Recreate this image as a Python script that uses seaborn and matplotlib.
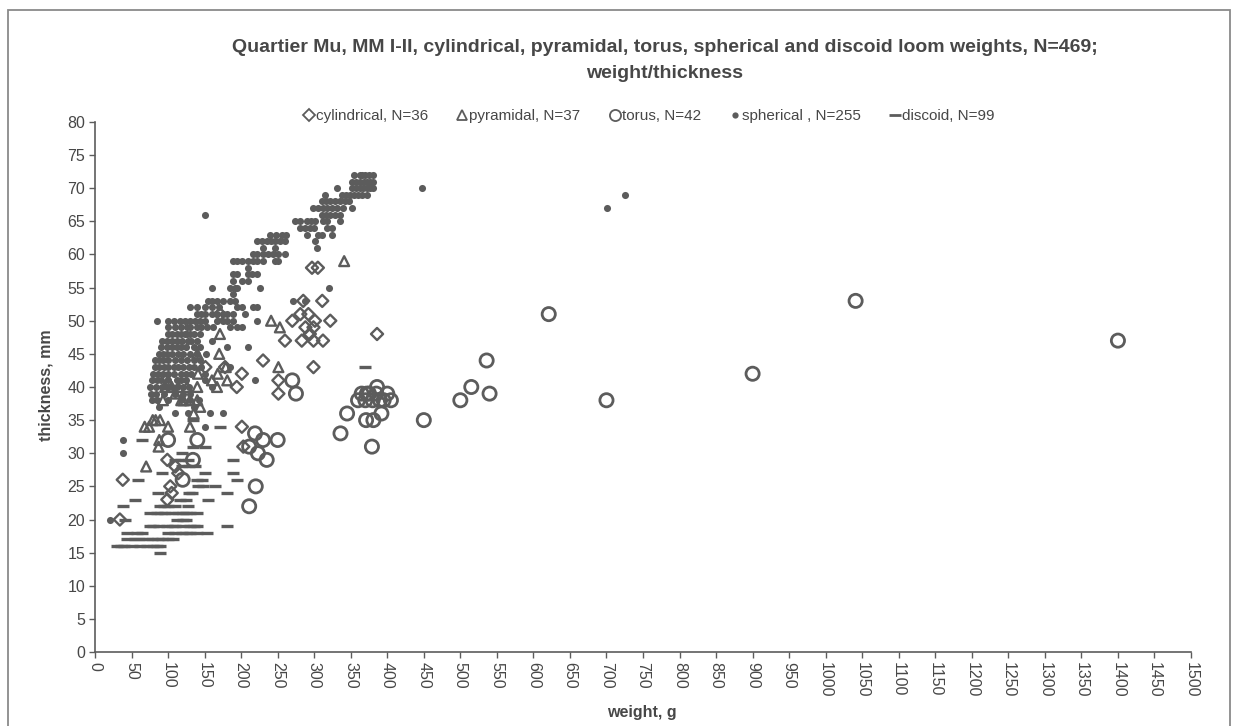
import numpy as np
import pandas as pd
import matplotlib
matplotlib.use("Agg")
import matplotlib.pyplot as plt
import seaborn as sns
from matplotlib.lines import Line2D
from matplotlib.patches import Rectangle

# ---------------- data (weight g, thickness mm) ----------------
cyl_weight = [34, 38, 99, 114, 103, 105, 99, 110, 151, 178, 171, 194, 201, 201, 203,
              230, 251, 251, 260, 270, 281, 283, 288, 292, 294, 299, 299, 299, 301,
              297, 305, 311, 285, 322, 386, 312]
cyl_thick = [20, 26, 29, 27, 25, 24, 23, 28, 43, 43, 51, 40, 42, 34, 31,
             44, 41, 39, 47, 50, 51, 47, 49, 51, 48, 49, 47, 43, 50,
             58, 58, 53, 53, 50, 48, 47]

pyr_weight = [70, 88, 87, 68, 79, 89, 100, 74, 130, 93, 121, 130, 140, 144, 96, 105,
              114, 126, 140, 100, 110, 141, 140, 170, 179, 168, 167, 181, 171, 251,
              241, 253, 341, 135, 160, 118, 83]
pyr_thick = [28, 32, 31, 34, 35, 35, 34, 34, 34, 38, 38, 38, 38, 37, 40, 40,
             40, 40, 40, 41, 39, 42, 45, 45, 43, 42, 40, 41, 48, 43,
             50, 49, 59, 36, 41, 38, 35]

tor_weight = [100, 140, 134, 120, 211, 219, 230, 250, 223, 235, 220, 211, 270, 275,
              336, 345, 371, 381, 379, 386, 392, 360, 365, 370, 375, 380, 385, 390,
              395, 400, 405, 372, 450, 500, 515, 536, 540, 621, 700, 900, 1041, 1400]
tor_thick = [32, 32, 29, 26, 31, 33, 32, 32, 30, 29, 25, 22, 41, 39,
             33, 36, 35, 35, 31, 40, 36, 38, 39, 38, 39, 38, 39, 38,
             38, 39, 38, 39, 35, 38, 40, 44, 39, 51, 38, 42, 53, 47]

# spherical: thickness levels and the weights found at each level
sph_levels = [20, 30, 32, 34, 36, 37, 38, 39, 40, 41, 42, 43, 44, 45, 46, 47, 48, 49,
              50, 51, 52, 53, 54, 55, 56, 57, 58, 59, 60, 61, 62, 63, 64, 65, 66, 67,
              68, 69, 70, 71, 72]
sph_weights = [
    [20], [38], [38], [150], [110, 127, 157, 175], [88, 135],
    [78, 85, 100, 118, 130, 142],
    [76, 83, 95, 110, 120, 130],
    [75, 83, 92, 98, 105, 112, 120, 128, 160],
    [78, 85, 90, 100, 112, 118, 125, 150, 219],
    [80, 86, 93, 100, 108, 118, 125, 132, 150],
    [82, 88, 95, 100, 108, 114, 120, 128, 135, 145, 185],
    [82, 88, 93, 100, 109, 118, 126, 135, 144],
    [88, 93, 98, 105, 114, 120, 130, 140, 152],
    [90, 98, 105, 112, 118, 125, 135, 144, 181, 209],
    [92, 98, 105, 112, 119, 127, 132, 140, 160],
    [100, 105, 112, 118, 123, 126, 130, 135, 144],
    [100, 110, 118, 126, 130, 140, 145, 153, 161, 185, 194, 201],
    [85, 100, 108, 116, 123, 130, 137, 144, 150, 167, 175, 181, 189, 222],
    [140, 145, 150, 160, 167, 175, 181, 189, 205],
    [130, 140, 150, 160, 170, 195, 201, 216, 222],
    [155, 160, 167, 175, 185, 192, 271, 287],
    [189],
    [160, 185, 192, 195, 226, 320],
    [189, 201, 209],
    [189, 195, 209, 215, 222],
    [209],
    [189, 195, 201, 210, 216, 222, 230, 246, 250],
    [216, 222, 230, 237, 244, 250, 260],
    [230, 247, 304],
    [222, 228, 235, 241, 247, 253, 260, 301],
    [240, 248, 256, 262, 290, 305, 310, 324],
    [280, 287, 294, 300, 318, 324],
    [274, 280, 290, 296, 301, 312, 318, 335],
    [150, 310, 316, 322, 328, 335],
    [298, 305, 312, 318, 324, 331, 340, 352, 701],
    [310, 316, 322, 328, 335, 342, 348],
    [315, 338, 343, 349, 355, 360, 366, 372, 726],
    [331, 352, 357, 362, 367, 372, 376, 381, 447],
    [352, 357, 363, 368, 372, 376, 381],
    [355, 362, 366, 370, 375, 380],
]

# discoid: thickness levels and the weights found at each level
dis_levels = [15, 16, 17, 18, 19, 20, 21, 22, 23, 24, 25, 26, 27, 28, 29, 30, 31, 32,
              34, 35, 43]
dis_weights = [
    [89],
    [30, 35, 40, 51, 62, 71, 80, 85, 89],
    [44, 55, 60, 71, 78, 86, 92, 100, 107],
    [44, 57, 65, 100, 110, 119, 125, 130, 140, 153],
    [75, 80, 88, 99, 105, 110, 121, 130, 135, 140, 181],
    [41, 112, 120, 125],
    [75, 85, 90, 96, 105, 114, 120, 125, 130, 140],
    [38, 89, 95, 100, 110, 127],
    [55, 116, 125, 155],
    [86, 128, 133, 181],
    [141, 148, 164],
    [59, 140, 146, 195],
    [92, 151, 189],
    [119, 128, 137],
    [110, 118, 127, 189],
    [119],
    [134, 151],
    [64],
    [171],
    [134],
    [370],
]

legend_labels = ["cylindrical, N=36", "pyramidal, N=37", "torus, N=42",
                 "spherical , N=255", "discoid, N=99"]
title_line1 = ("Quartier Mu, MM I-II, cylindrical, pyramidal, torus, spherical and "
               "discoid loom weights, N=469;")
title_line2 = "weight/thickness"

# ---------------- build tables ----------------
sph_df = pd.DataFrame({
    "weight": [w for ws in sph_weights for w in ws],
    "thickness": [t for t, ws in zip(sph_levels, sph_weights) for _ in ws],
})
dis_df = pd.DataFrame({
    "weight": [w for ws in dis_weights for w in ws],
    "thickness": [t for t, ws in zip(dis_levels, dis_weights) for _ in ws],
})

# ---------------- style ----------------
sns.set_theme(style="white")
plt.rcParams['font.family'] = ['Liberation Sans', 'DejaVu Sans']

GRAY = '#5c5c5c'
TXT = '#474747'
W, H = 1237, 726

fig = plt.figure(figsize=(W / 100, H / 100), dpi=100)
ax = fig.add_axes([95 / W, (H - 652) / H, (1191 - 95) / W, (652 - 122) / H])

sns.scatterplot(x=dis_df["weight"], y=dis_df["thickness"], ax=ax, marker='_', s=64,
                color=GRAY, linewidth=2.4, legend=False)
sns.scatterplot(x=sph_df["weight"], y=sph_df["thickness"], ax=ax, marker='o', s=26,
                color=GRAY, edgecolor=GRAY, linewidth=0, legend=False)
sns.scatterplot(x=tor_weight, y=tor_thick, ax=ax, marker='o', s=90, color=GRAY,
                facecolor='none', edgecolor=GRAY, linewidth=2.0, legend=False)
sns.scatterplot(x=pyr_weight, y=pyr_thick, ax=ax, marker='^', s=50, color=GRAY,
                facecolor='none', edgecolor=GRAY, linewidth=1.7, legend=False)
sns.scatterplot(x=cyl_weight, y=cyl_thick, ax=ax, marker='D', s=38, color=GRAY,
                facecolor='none', edgecolor=GRAY, linewidth=1.7, legend=False)

ax.set_xlim(0, 1500)
ax.set_ylim(0, 80)
ax.set_xticks(np.arange(0, 1501, 50))
ax.set_yticks(np.arange(0, 81, 5))
ax.tick_params(axis='x', labelrotation=-90)
ax.tick_params(bottom=True, left=True, direction='out', length=4, width=1,
               color=GRAY, labelcolor=TXT, labelsize=11.5, pad=3)
ax.set_xlabel("")
ax.set_ylabel("")
sns.despine(ax=ax)
for side in ("left", "bottom"):
    ax.spines[side].set_color(GRAY)
    ax.spines[side].set_linewidth(1.2)
ax.grid(False)

# titles & labels
fig.text(665 / W, 1 - 47 / H, title_line1, ha='center', va='center', fontsize=14,
         weight='bold', color=TXT)
fig.text(665 / W, 1 - 73 / H, title_line2, ha='center', va='center', fontsize=14,
         weight='bold', color=TXT)
fig.text(642 / W, 1 - 712 / H, "weight, g", ha='center', va='center', fontsize=11.5,
         weight='bold', color=TXT)
fig.text(46 / W, 1 - 385 / H, "thickness, mm", ha='center', va='center', fontsize=11.5,
         weight='bold', color=TXT, rotation=90)

# legend
handles = [
    Line2D([], [], ls='none', marker='D', ms=6, mfc='none', mec=GRAY, mew=1.3),
    Line2D([], [], ls='none', marker='^', ms=7, mfc='none', mec=GRAY, mew=1.3),
    Line2D([], [], ls='none', marker='o', ms=8, mfc='none', mec=GRAY, mew=1.3),
    Line2D([], [], ls='none', marker='o', ms=4.5, mfc=GRAY, mec=GRAY, mew=0),
    Line2D([], [], ls='none', marker='_', ms=8, mec=GRAY, mew=2),
]
leg = fig.legend(handles, legend_labels, loc='center', ncol=5,
                 bbox_to_anchor=(649 / W, 1 - 116 / H), frameon=False,
                 handlelength=0.7, handletextpad=0.1, columnspacing=1.9,
                 fontsize=11, labelcolor=TXT)

# outer frame
fig.patches.append(Rectangle((8 / W, -0.02), (1230 - 8) / W, 1.02 - 10 / H,
                             transform=fig.transFigure, fill=False,
                             edgecolor='#8a8a8a', linewidth=1.3))

fig.savefig("out.png", dpi=100)
